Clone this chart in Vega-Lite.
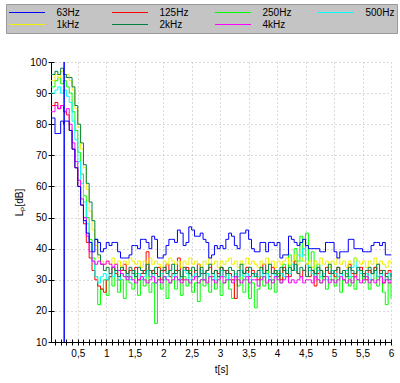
{
"$schema": "https://vega.github.io/schema/vega-lite/v6.json",
"width": 340, "height": 280,
"autosize": {"type": "none"},
"padding": {"left": 51, "top": 62, "right": 9, "bottom": 41},
"background": "white",
"config": {"view": {"stroke": null}, "font": "Liberation Sans"},
"layer": [
{
"data": {"values": [
{"t":0.03,"63Hz":82,"125Hz":86,"250Hz":92,"500Hz":90,"1kHz":94,"2kHz":96,"4kHz":84},
{"t":0.05,"63Hz":82,"125Hz":86,"250Hz":92,"500Hz":90,"1kHz":94,"2kHz":96,"4kHz":84},
{"t":0.1,"63Hz":77,"125Hz":87,"250Hz":94,"500Hz":91,"1kHz":96,"2kHz":97,"4kHz":86},
{"t":0.15,"63Hz":77,"125Hz":85,"250Hz":95,"500Hz":92,"1kHz":95,"2kHz":96,"4kHz":85},
{"t":0.2,"63Hz":81,"125Hz":86,"250Hz":93,"500Hz":90,"1kHz":97,"2kHz":98,"4kHz":86},
{"t":0.25,"63Hz":80,"125Hz":84,"250Hz":94,"500Hz":91,"1kHz":95,"2kHz":96,"4kHz":84},
{"t":0.26,"63Hz":100},
{"t":0.261,"63Hz":10},
{"t":0.262,"63Hz":81},
{"t":0.3,"63Hz":81,"125Hz":83,"250Hz":92,"500Hz":89,"1kHz":96,"2kHz":95,"4kHz":85},
{"t":0.35,"63Hz":78,"125Hz":78,"250Hz":90,"500Hz":87,"1kHz":94,"2kHz":95,"4kHz":80},
{"t":0.4,"63Hz":72,"125Hz":72,"250Hz":84,"500Hz":81,"1kHz":91,"2kHz":92,"4kHz":74},
{"t":0.45,"63Hz":66,"125Hz":66,"250Hz":78,"500Hz":75,"1kHz":85,"2kHz":86,"4kHz":68},
{"t":0.5,"63Hz":60,"125Hz":60,"250Hz":71,"500Hz":68,"1kHz":79,"2kHz":80,"4kHz":62},
{"t":0.55,"63Hz":54,"125Hz":54,"250Hz":64,"500Hz":61,"1kHz":72,"2kHz":74,"4kHz":56},
{"t":0.6,"63Hz":49,"125Hz":48,"250Hz":57,"500Hz":55,"1kHz":66,"2kHz":67,"4kHz":50},
{"t":0.65,"63Hz":45,"125Hz":42,"250Hz":50,"500Hz":48,"1kHz":59,"2kHz":61,"4kHz":44},
{"t":0.7,"63Hz":42,"125Hz":37,"250Hz":43,"500Hz":42,"1kHz":52,"2kHz":55,"4kHz":39},
{"t":0.75,"63Hz":39,"125Hz":33,"250Hz":37,"500Hz":36,"1kHz":46,"2kHz":49,"4kHz":36},
{"t":0.8,"63Hz":43,"125Hz":30,"250Hz":31,"500Hz":31,"1kHz":41,"2kHz":43,"4kHz":35},
{"t":0.85,"63Hz":42,"125Hz":28,"250Hz":22,"500Hz":29,"1kHz":37,"2kHz":38,"4kHz":36},
{"t":0.9,"63Hz":39,"125Hz":27,"250Hz":27,"500Hz":31,"1kHz":36,"2kHz":35,"4kHz":35},
{"t":0.95,"63Hz":40,"125Hz":26,"250Hz":30,"500Hz":32,"1kHz":35,"2kHz":33,"4kHz":35},
{"t":1.0,"63Hz":42,"125Hz":30,"250Hz":25,"500Hz":30,"1kHz":36,"2kHz":34,"4kHz":36},
{"t":1.05,"63Hz":41,"125Hz":31,"250Hz":31,"500Hz":32,"1kHz":35,"2kHz":32,"4kHz":35},
{"t":1.1,"63Hz":42,"125Hz":34,"250Hz":28,"500Hz":31,"1kHz":37,"2kHz":34,"4kHz":34},
{"t":1.15,"63Hz":42,"125Hz":32,"250Hz":33,"500Hz":33,"1kHz":35,"2kHz":33,"4kHz":35},
{"t":1.2,"63Hz":39,"125Hz":30,"250Hz":26,"500Hz":30,"1kHz":36,"2kHz":31,"4kHz":33},
{"t":1.25,"63Hz":37,"125Hz":33,"250Hz":30,"500Hz":32,"1kHz":34,"2kHz":34,"4kHz":32},
{"t":1.3,"63Hz":37,"125Hz":35,"250Hz":24,"500Hz":31,"1kHz":36,"2kHz":33,"4kHz":31},
{"t":1.35,"63Hz":37,"125Hz":31,"250Hz":31,"500Hz":32,"1kHz":35,"2kHz":32,"4kHz":30},
{"t":1.4,"63Hz":38,"125Hz":33,"250Hz":29,"500Hz":30,"1kHz":37,"2kHz":34,"4kHz":31},
{"t":1.45,"63Hz":41,"125Hz":32,"250Hz":27,"500Hz":33,"1kHz":36,"2kHz":33,"4kHz":30},
{"t":1.5,"63Hz":41,"125Hz":34,"250Hz":32,"500Hz":31,"1kHz":35,"2kHz":31,"4kHz":29},
{"t":1.55,"63Hz":40,"125Hz":30,"250Hz":25,"500Hz":32,"1kHz":36,"2kHz":34,"4kHz":30},
{"t":1.6,"63Hz":43,"125Hz":32,"250Hz":30,"500Hz":30,"1kHz":34,"2kHz":33,"4kHz":31},
{"t":1.65,"63Hz":43,"125Hz":33,"250Hz":28,"500Hz":31,"1kHz":36,"2kHz":32,"4kHz":30},
{"t":1.7,"63Hz":42,"125Hz":39,"250Hz":33,"500Hz":33,"1kHz":35,"2kHz":35,"4kHz":29},
{"t":1.75,"63Hz":40,"125Hz":31,"250Hz":26,"500Hz":31,"1kHz":37,"2kHz":33,"4kHz":30},
{"t":1.8,"63Hz":44,"125Hz":33,"250Hz":29,"500Hz":32,"1kHz":35,"2kHz":32,"4kHz":31},
{"t":1.85,"63Hz":43,"125Hz":32,"250Hz":16,"500Hz":29,"1kHz":36,"2kHz":34,"4kHz":29},
{"t":1.9,"63Hz":37,"125Hz":34,"250Hz":30,"500Hz":31,"1kHz":35,"2kHz":31,"4kHz":30},
{"t":1.95,"63Hz":37,"125Hz":30,"250Hz":27,"500Hz":32,"1kHz":34,"2kHz":33,"4kHz":29},
{"t":2.0,"63Hz":38,"125Hz":33,"250Hz":31,"500Hz":30,"1kHz":36,"2kHz":34,"4kHz":31},
{"t":2.05,"63Hz":41,"125Hz":35,"250Hz":24,"500Hz":31,"1kHz":35,"2kHz":32,"4kHz":30},
{"t":2.1,"63Hz":43,"125Hz":31,"250Hz":29,"500Hz":33,"1kHz":37,"2kHz":33,"4kHz":29},
{"t":2.15,"63Hz":43,"125Hz":32,"250Hz":32,"500Hz":31,"1kHz":36,"2kHz":35,"4kHz":30},
{"t":2.2,"63Hz":42,"125Hz":33,"250Hz":27,"500Hz":32,"1kHz":35,"2kHz":32,"4kHz":31},
{"t":2.25,"63Hz":46,"125Hz":37,"250Hz":30,"500Hz":30,"1kHz":36,"2kHz":33,"4kHz":30},
{"t":2.3,"63Hz":45,"125Hz":30,"250Hz":25,"500Hz":31,"1kHz":34,"2kHz":31,"4kHz":29},
{"t":2.35,"63Hz":41,"125Hz":33,"250Hz":31,"500Hz":33,"1kHz":36,"2kHz":34,"4kHz":30},
{"t":2.4,"63Hz":42,"125Hz":34,"250Hz":28,"500Hz":32,"1kHz":35,"2kHz":33,"4kHz":30},
{"t":2.45,"63Hz":47,"125Hz":32,"250Hz":33,"500Hz":30,"1kHz":37,"2kHz":32,"4kHz":29},
{"t":2.5,"63Hz":46,"125Hz":31,"250Hz":26,"500Hz":31,"1kHz":35,"2kHz":34,"4kHz":30},
{"t":2.55,"63Hz":44,"125Hz":33,"250Hz":29,"500Hz":32,"1kHz":36,"2kHz":33,"4kHz":31},
{"t":2.6,"63Hz":44,"125Hz":35,"250Hz":23,"500Hz":31,"1kHz":35,"2kHz":31,"4kHz":29},
{"t":2.65,"63Hz":45,"125Hz":32,"250Hz":30,"500Hz":33,"1kHz":34,"2kHz":34,"4kHz":30},
{"t":2.7,"63Hz":43,"125Hz":30,"250Hz":28,"500Hz":30,"1kHz":36,"2kHz":32,"4kHz":30},
{"t":2.75,"63Hz":42,"125Hz":33,"250Hz":32,"500Hz":32,"1kHz":35,"2kHz":33,"4kHz":29},
{"t":2.8,"63Hz":37,"125Hz":34,"250Hz":26,"500Hz":31,"1kHz":37,"2kHz":35,"4kHz":31},
{"t":2.85,"63Hz":38,"125Hz":31,"250Hz":30,"500Hz":32,"1kHz":35,"2kHz":32,"4kHz":30},
{"t":2.9,"63Hz":41,"125Hz":33,"250Hz":27,"500Hz":30,"1kHz":36,"2kHz":33,"4kHz":29},
{"t":2.95,"63Hz":40,"125Hz":32,"250Hz":31,"500Hz":31,"1kHz":34,"2kHz":31,"4kHz":30},
{"t":3.0,"63Hz":41,"125Hz":34,"250Hz":25,"500Hz":33,"1kHz":36,"2kHz":34,"4kHz":31},
{"t":3.05,"63Hz":40,"125Hz":31,"250Hz":29,"500Hz":31,"1kHz":35,"2kHz":33,"4kHz":29},
{"t":3.1,"63Hz":43,"125Hz":33,"250Hz":32,"500Hz":32,"1kHz":36,"2kHz":32,"4kHz":30},
{"t":3.15,"63Hz":45,"125Hz":32,"250Hz":27,"500Hz":30,"1kHz":37,"2kHz":34,"4kHz":30},
{"t":3.2,"63Hz":44,"125Hz":30,"250Hz":24,"500Hz":31,"1kHz":35,"2kHz":33,"4kHz":29},
{"t":3.25,"63Hz":41,"125Hz":24,"250Hz":30,"500Hz":32,"1kHz":36,"2kHz":31,"4kHz":31},
{"t":3.3,"63Hz":40,"125Hz":31,"250Hz":28,"500Hz":31,"1kHz":34,"2kHz":33,"4kHz":30},
{"t":3.35,"63Hz":45,"125Hz":33,"250Hz":33,"500Hz":33,"1kHz":36,"2kHz":35,"4kHz":29},
{"t":3.4,"63Hz":45,"125Hz":32,"250Hz":26,"500Hz":31,"1kHz":35,"2kHz":32,"4kHz":30},
{"t":3.45,"63Hz":46,"125Hz":34,"250Hz":30,"500Hz":32,"1kHz":37,"2kHz":33,"4kHz":31},
{"t":3.5,"63Hz":43,"125Hz":31,"250Hz":24,"500Hz":30,"1kHz":35,"2kHz":34,"4kHz":29},
{"t":3.55,"63Hz":40,"125Hz":33,"250Hz":29,"500Hz":31,"1kHz":36,"2kHz":32,"4kHz":30},
{"t":3.6,"63Hz":39,"125Hz":32,"250Hz":21,"500Hz":32,"1kHz":35,"2kHz":31,"4kHz":30},
{"t":3.65,"63Hz":39,"125Hz":30,"250Hz":27,"500Hz":31,"1kHz":34,"2kHz":33,"4kHz":28},
{"t":3.7,"63Hz":42,"125Hz":33,"250Hz":31,"500Hz":33,"1kHz":36,"2kHz":34,"4kHz":30},
{"t":3.75,"63Hz":42,"125Hz":35,"250Hz":28,"500Hz":31,"1kHz":35,"2kHz":32,"4kHz":31},
{"t":3.8,"63Hz":39,"125Hz":32,"250Hz":33,"500Hz":32,"1kHz":37,"2kHz":33,"4kHz":29},
{"t":3.85,"63Hz":42,"125Hz":31,"250Hz":27,"500Hz":30,"1kHz":35,"2kHz":35,"4kHz":30},
{"t":3.9,"63Hz":42,"125Hz":34,"250Hz":30,"500Hz":32,"1kHz":36,"2kHz":32,"4kHz":29},
{"t":3.95,"63Hz":41,"125Hz":32,"250Hz":26,"500Hz":31,"1kHz":34,"2kHz":33,"4kHz":31},
{"t":4.0,"63Hz":42,"125Hz":33,"250Hz":32,"500Hz":33,"1kHz":36,"2kHz":31,"4kHz":30},
{"t":4.05,"63Hz":37,"125Hz":30,"250Hz":29,"500Hz":32,"1kHz":35,"2kHz":34,"4kHz":29},
{"t":4.1,"63Hz":38,"125Hz":34,"250Hz":35,"500Hz":31,"1kHz":36,"2kHz":33,"4kHz":30},
{"t":4.15,"63Hz":38,"125Hz":32,"250Hz":31,"500Hz":33,"1kHz":37,"2kHz":32,"4kHz":31},
{"t":4.2,"63Hz":44,"125Hz":31,"250Hz":38,"500Hz":32,"1kHz":35,"2kHz":34,"4kHz":29},
{"t":4.25,"63Hz":43,"125Hz":33,"250Hz":33,"500Hz":35,"1kHz":36,"2kHz":33,"4kHz":30},
{"t":4.3,"63Hz":42,"125Hz":36,"250Hz":40,"500Hz":33,"1kHz":38,"2kHz":35,"4kHz":29},
{"t":4.35,"63Hz":41,"125Hz":32,"250Hz":36,"500Hz":38,"1kHz":35,"2kHz":32,"4kHz":30},
{"t":4.4,"63Hz":42,"125Hz":31,"250Hz":44,"500Hz":36,"1kHz":37,"2kHz":34,"4kHz":31},
{"t":4.45,"63Hz":43,"125Hz":33,"250Hz":38,"500Hz":40,"1kHz":36,"2kHz":33,"4kHz":29},
{"t":4.5,"63Hz":41,"125Hz":35,"250Hz":45,"500Hz":35,"1kHz":35,"2kHz":31,"4kHz":30},
{"t":4.55,"63Hz":40,"125Hz":31,"250Hz":34,"500Hz":33,"1kHz":36,"2kHz":34,"4kHz":30},
{"t":4.6,"63Hz":40,"125Hz":33,"250Hz":39,"500Hz":32,"1kHz":34,"2kHz":33,"4kHz":29},
{"t":4.65,"63Hz":40,"125Hz":28,"250Hz":31,"500Hz":31,"1kHz":36,"2kHz":32,"4kHz":31},
{"t":4.7,"63Hz":40,"125Hz":32,"250Hz":35,"500Hz":33,"1kHz":35,"2kHz":34,"4kHz":30},
{"t":4.75,"63Hz":39,"125Hz":33,"250Hz":29,"500Hz":31,"1kHz":37,"2kHz":33,"4kHz":29},
{"t":4.8,"63Hz":39,"125Hz":31,"250Hz":32,"500Hz":32,"1kHz":35,"2kHz":31,"4kHz":30},
{"t":4.85,"63Hz":42,"125Hz":34,"250Hz":27,"500Hz":30,"1kHz":36,"2kHz":33,"4kHz":31},
{"t":4.9,"63Hz":42,"125Hz":32,"250Hz":30,"500Hz":31,"1kHz":34,"2kHz":35,"4kHz":29},
{"t":4.95,"63Hz":42,"125Hz":33,"250Hz":33,"500Hz":33,"1kHz":36,"2kHz":32,"4kHz":30},
{"t":5.0,"63Hz":39,"125Hz":31,"250Hz":28,"500Hz":32,"1kHz":35,"2kHz":33,"4kHz":29},
{"t":5.05,"63Hz":37,"125Hz":34,"250Hz":31,"500Hz":31,"1kHz":37,"2kHz":34,"4kHz":30},
{"t":5.1,"63Hz":39,"125Hz":32,"250Hz":26,"500Hz":32,"1kHz":35,"2kHz":32,"4kHz":31},
{"t":5.15,"63Hz":39,"125Hz":30,"250Hz":30,"500Hz":30,"1kHz":36,"2kHz":33,"4kHz":30},
{"t":5.2,"63Hz":39,"125Hz":33,"250Hz":32,"500Hz":33,"1kHz":34,"2kHz":31,"4kHz":29},
{"t":5.25,"63Hz":43,"125Hz":35,"250Hz":28,"500Hz":31,"1kHz":36,"2kHz":34,"4kHz":30},
{"t":5.3,"63Hz":43,"125Hz":32,"250Hz":31,"500Hz":34,"1kHz":35,"2kHz":33,"4kHz":29},
{"t":5.35,"63Hz":40,"125Hz":31,"250Hz":27,"500Hz":37,"1kHz":37,"2kHz":32,"4kHz":31},
{"t":5.4,"63Hz":40,"125Hz":33,"250Hz":30,"500Hz":33,"1kHz":36,"2kHz":34,"4kHz":30},
{"t":5.45,"63Hz":40,"125Hz":34,"250Hz":33,"500Hz":32,"1kHz":35,"2kHz":33,"4kHz":29},
{"t":5.5,"63Hz":39,"125Hz":32,"250Hz":29,"500Hz":31,"1kHz":36,"2kHz":31,"4kHz":30},
{"t":5.55,"63Hz":39,"125Hz":30,"250Hz":32,"500Hz":32,"1kHz":34,"2kHz":33,"4kHz":31},
{"t":5.6,"63Hz":39,"125Hz":33,"250Hz":27,"500Hz":30,"1kHz":36,"2kHz":34,"4kHz":29},
{"t":5.65,"63Hz":41,"125Hz":32,"250Hz":30,"500Hz":32,"1kHz":35,"2kHz":32,"4kHz":30},
{"t":5.7,"63Hz":42,"125Hz":34,"250Hz":34,"500Hz":33,"1kHz":37,"2kHz":33,"4kHz":29},
{"t":5.75,"63Hz":42,"125Hz":31,"250Hz":28,"500Hz":31,"1kHz":35,"2kHz":35,"4kHz":30},
{"t":5.8,"63Hz":41,"125Hz":33,"250Hz":31,"500Hz":32,"1kHz":36,"2kHz":32,"4kHz":31},
{"t":5.85,"63Hz":42,"125Hz":29,"250Hz":26,"500Hz":30,"1kHz":35,"2kHz":33,"4kHz":29},
{"t":5.9,"63Hz":38,"125Hz":32,"250Hz":22,"500Hz":31,"1kHz":34,"2kHz":31,"4kHz":30},
{"t":5.95,"63Hz":38,"125Hz":33,"250Hz":29,"500Hz":32,"1kHz":36,"2kHz":30,"4kHz":29},
{"t":6.0,"63Hz":38,"125Hz":31,"250Hz":24,"500Hz":31,"1kHz":35,"2kHz":32,"4kHz":30}
]},
"transform": [
{"fold": ["250Hz","125Hz","500Hz","1kHz","2kHz","4kHz","63Hz"], "as": ["band","v"]},
{"filter": "isValid(datum.v)"}
],
"mark": {"type": "line", "interpolate": "step-after", "strokeWidth": 1},
"encoding": {
"x": {"field": "t", "type": "quantitative",
 "scale": {"domain": [0.03, 6], "nice": false, "zero": false},
 "axis": {
  "values": [0.1,0.2,0.3,0.4,0.5,0.6,0.7,0.8,0.9,1,1.1,1.2,1.3,1.4,1.5,1.6,1.7,1.8,1.9,2,2.1,2.2,2.3,2.4,2.5,2.6,2.7,2.8,2.9,3,3.1,3.2,3.3,3.4,3.5,3.6,3.7,3.8,3.9,4,4.1,4.2,4.3,4.4,4.5,4.6,4.7,4.8,4.9,5,5.1,5.2,5.3,5.4,5.5,5.6,5.7,5.8,5.9,6],
  "labelExpr": "abs(datum.value*2-round(datum.value*2))<0.001 ? replace(format(datum.value,'~g'),'.',',') : ''",
  "labelOverlap": false, "labelFlush": false, "labelBound": false,
  "tickSize": 3, "tickColor": "black", "domainColor": "black",
  "labelFontSize": 10, "labelColor": "black", "labelPadding": 3,
  "title": "t[s]", "titleFontSize": 10, "titleFontWeight": "normal", "titleColor": "black", "titlePadding": 6,
  "grid": true, "gridDash": [1,3], "gridColor": "#b4b4b4",
  "gridOpacity": {"condition": {"test": "abs(datum.value*2-round(datum.value*2))<0.001", "value": 1}, "value": 0}
 }},
"y": {"field": "v", "type": "quantitative",
 "scale": {"domain": [10, 100], "nice": false, "zero": false},
 "axis": {
  "values": [10,20,30,40,50,60,70,80,90,100],
  "tickSize": 3, "tickColor": "black", "domainColor": "black",
  "labelFontSize": 10, "labelColor": "black", "labelPadding": 1.5,
  "title": "Lₚ[dB]", "titleFontSize": 10, "titleFontWeight": "normal", "titleColor": "black", "titlePadding": 5,
  "grid": true, "gridDash": [1,3], "gridColor": "#b4b4b4"
 }},
"color": {"field": "band", "type": "nominal",
 "scale": {"domain": ["63Hz","125Hz","250Hz","500Hz","1kHz","2kHz","4kHz"],
           "range": ["#0000ff","#ff0000","#00ff00","#00ffff","#f0f000","#008040","#ff00ff"]},
 "legend": {"orient": "none", "legendX": -45, "legendY": -58, "columns": 4, "direction": "horizontal",
  "title": null, "symbolType": "stroke", "symbolSize": 1296, "symbolStrokeWidth": 1, "clipHeight": 12,
  "labelFontSize": 10, "labelFont": "Liberation Sans", "labelColor": "black", "labelOffset": 11,
  "columnPadding": 26, "rowPadding": 0, "padding": 2.5, "fillColor": "#c4c4c4", "strokeColor": "#999999",
  "gridAlign": "all"}}
}
},
{
"data": {"values": [{"t": 3, "v": 50}]},
"mark": {"type": "point", "opacity": 0},
"encoding": {
"x": {"field": "t", "type": "quantitative",
 "scale": {"domain": [0.03, 6], "nice": false, "zero": false},
 "axis": {"orient": "bottom", "values": [0.1,0.2,0.3,0.4,0.5,0.6,0.7,0.8,0.9,1,1.1,1.2,1.3,1.4,1.5,1.6,1.7,1.8,1.9,2,2.1,2.2,2.3,2.4,2.5,2.6,2.7,2.8,2.9,3,3.1,3.2,3.3,3.4,3.5,3.6,3.7,3.8,3.9,4,4.1,4.2,4.3,4.4,4.5,4.6,4.7,4.8,4.9,5,5.1,5.2,5.3,5.4,5.5,5.6,5.7,5.8,5.9,6],
  "tickSize": -3, "tickColor": "black", "labels": false, "domain": false, "grid": false, "title": null}},
"y": {"field": "v", "type": "quantitative",
 "scale": {"domain": [10, 100], "nice": false, "zero": false},
 "axis": {"orient": "left", "values": [10,20,30,40,50,60,70,80,90,100],
  "tickSize": -3, "tickColor": "black", "labels": false, "domain": false, "grid": false, "title": null}}
}
}
],
"resolve": {"axis": {"x": "independent", "y": "independent"}}
}
